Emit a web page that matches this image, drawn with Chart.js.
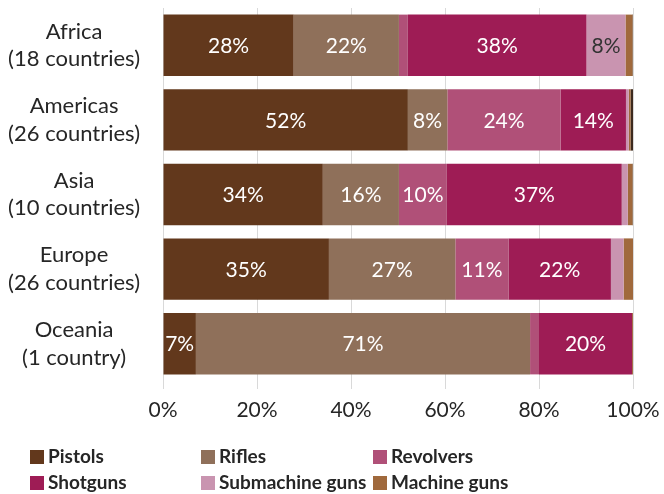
<!DOCTYPE html>
<html>
<head>
<meta charset="utf-8">
<script src="https://cdn.jsdelivr.net/npm/chart.js@4/dist/chart.umd.min.js"></script>
<style>
  body { margin: 0; background: #fff; }
  #wrap { position: relative; width: 664px; height: 494px; }
  #legend { position: absolute; left: 0; top: 444px; width: 664px; font-family: Lato, sans-serif; font-weight: bold; font-size: 19px; color: #262626; }
  .item { position: absolute; height: 24px; line-height: 24px; white-space: nowrap; }
  .box { display: inline-block; width: 14px; height: 14px; margin-right: 4px; vertical-align: -1px; }
</style>
</head>
<body>
<div id="wrap">
  <canvas id="myChart" width="664" height="494"></canvas>
  <div id="legend"></div>
</div>
<script>
var regions = [['Africa', '(18 countries)'], ['Americas', '(26 countries)'], ['Asia', '(10 countries)'], ['Europe', '(26 countries)'], ['Oceania', '(1 country)']];
var weaponTypes = ['Pistols', 'Rifles', 'Revolvers', 'Shotguns', 'Submachine guns', 'Machine guns'];

// share of seized weapons, %
var pistols = [27.8, 52.1, 34.0, 35.3, 7.0];
var rifles = [22.4, 8.4, 16.2, 26.9, 71.1];
var revolvers = [1.9, 24.1, 10.2, 11.3, 1.9];
var shotguns = [38.0, 13.9, 37.2, 21.8, 19.8];
var submachine = [8.3, 0.6, 1.3, 2.7, 0.0];
var machine = [1.5, 0.4, 1.0, 2.0, 0.2];
var other = [0.1, 0.5, 0.1, 0.2, 0.0];

var xTicks = [0, 20, 40, 60, 80, 100];

var colors = ['#62381c', '#8f705a', '#b05078', '#9e1c55', '#c994b0', '#a0693c'];
var seriesData = [pistols, rifles, revolvers, shotguns, submachine, machine];

var datasets = weaponTypes.map(function (name, i) {
    return { label: name, data: seriesData[i], backgroundColor: colors[i], borderWidth: 0 };
});
datasets.push({ label: 'Other', data: other, backgroundColor: '#3d2a1e', borderWidth: 0 });

var barLabels = {
    id: 'barLabels',
    afterDatasetsDraw: function (chart) {
        var ctx = chart.ctx;
        ctx.save();
        ctx.font = '21px Lato';
        ctx.textAlign = 'center';
        ctx.textBaseline = 'middle';
        chart.data.datasets.forEach(function (ds, i) {
            var meta = chart.getDatasetMeta(i);
            meta.data.forEach(function (bar, j) {
                var v = ds.data[j];
                if (v < 5) return;
                ctx.fillStyle = i == 4 ? '#333333' : '#ffffff';
                ctx.fillText(Math.round(v) + '%', (bar.x + bar.base) / 2, bar.y + 1);
            });
        });
        ctx.restore();
    }
};

new Chart(document.getElementById('myChart'), {
    type: 'bar',
    data: { labels: regions, datasets: datasets },
    options: {
        indexAxis: 'y',
        responsive: false,
        animation: false,
        barPercentage: 0.823,
        categoryPercentage: 1,
        layout: { padding: { left: 0, right: 31, top: 8, bottom: 63 } },
        plugins: { legend: { display: false }, tooltip: { enabled: false } },
        scales: {
            x: {
                stacked: true,
                min: 0,
                max: 100,
                afterBuildTicks: function (scale) {
                    scale.ticks = xTicks.map(function (v) { return { value: v }; });
                },
                afterFit: function (scale) {
                    scale.height = 50;
                    scale.paddingLeft = 0;
                    scale.paddingRight = 0;
                },
                border: { display: false },
                grid: { color: '#d9d9d9', lineWidth: 1, tickLength: 8 },
                ticks: {
                    padding: 9,
                    color: '#262626',
                    font: { family: 'Lato', size: 21 },
                    callback: function (v) { return v + '%'; }
                }
            },
            y: {
                stacked: true,
                afterFit: function (scale) {
                    scale.width = 163;
                    scale.paddingTop = 0;
                    scale.paddingBottom = 0;
                },
                border: { display: false },
                grid: { display: false },
                ticks: {
                    padding: 15,
                    crossAlign: 'center',
                    color: '#262626',
                    font: { family: 'Lato', size: 22, lineHeight: 1.25 }
                }
            }
        }
    },
    plugins: [barLabels]
});

// legend in three columns, two rows
var legendPos = [[30, 0], [201, 0], [373, 0], [30, 26], [201, 26], [373, 26]];
var legend = document.getElementById('legend');
weaponTypes.forEach(function (name, i) {
    var d = document.createElement('div');
    d.className = 'item';
    d.style.left = legendPos[i][0] + 'px';
    d.style.top = legendPos[i][1] + 'px';
    d.innerHTML = '<span class="box" style="background:' + colors[i] + '"></span>' + name;
    legend.appendChild(d);
});
</script>
</body>
</html>
